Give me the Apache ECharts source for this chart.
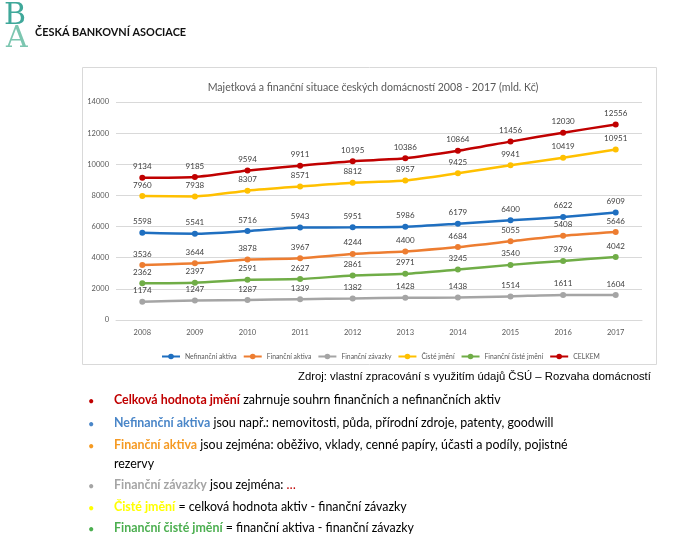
<!DOCTYPE html>
<html><head><meta charset="utf-8">
<script src="https://cdn.jsdelivr.net/npm/echarts@6/dist/echarts.min.js"></script>
<style>html,body{margin:0;padding:0;background:#fff}#c{width:682px;height:551px}</style>
</head><body><div id="c"></div>
<script>
const years = ['2008','2009','2010','2011','2012','2013','2014','2015','2016','2017'];
const nefinancniAktiva = [5598,5541,5716,5943,5951,5986,6179,6400,6622,6909];
const financniAktiva = [3536,3644,3878,3967,4244,4400,4684,5055,5408,5646];
const financniZavazky = [1174,1247,1287,1339,1382,1428,1438,1514,1611,1604];
const cisteJmeni = [7960,7938,8307,8571,8812,8957,9425,9941,10419,10951];
const financniCisteJmeni = [2362,2397,2591,2627,2861,2971,3245,3540,3796,4042];
const celkem = [9134,9185,9594,9911,10195,10386,10864,11456,12030,12556];
const seriesNames = ['Nefinanční aktiva','Finanční aktiva','Finanční závazky','Čisté jmění','Finanční čisté jmění','CELKEM'];
const seriesData = [nefinancniAktiva, financniAktiva, financniZavazky, cisteJmeni, financniCisteJmeni, celkem];
const colors = ['#1F6FC0','#ED7D31','#A5A5A5','#FFC000','#70AD47','#C00000'];

const chart = echarts.init(document.getElementById('c'), null, {renderer:'canvas'});
const bodyFont = 'Lato, "Open Sans", sans-serif';
const fs = 12.4;
const bulletLines = [
  {y:403, c:'#C00000', rich:[['r','Celková hodnota jmění'],['n',' zahrnuje souhrn finančních a nefinančních aktiv']]},
  {y:426, c:'#4A86C8', rich:[['b','Nefinanční aktiva'],['n',' jsou např.: nemovitosti, půda, přírodní zdroje, patenty, goodwill']]},
  {y:448, c:'#F59A23', rich:[['o','Finanční aktiva'],['n',' jsou zejména: oběživo, vklady, cenné papíry, účasti a podíly, pojistné']]},
  {y:467, c:null, rich:[['n','rezervy']]},
  {y:488, c:'#A5A5A5', rich:[['g','Finanční závazky'],['n',' jsou zejména: '],['d','…']]},
  {y:510, c:'#FFFF00', rich:[['y','Čisté jmění'],['n',' = celková hodnota aktiv - finanční závazky']]},
  {y:531, c:'#4CAF50', rich:[['gr','Finanční čisté jmění'],['n',' = finanční aktiva - finanční závazky']]}
];
const richStyles = {
  n:{fontSize:fs, fontFamily:bodyFont, fill:'#000'},
  r:{fontSize:fs, fontFamily:bodyFont, fontWeight:'bold', fill:'#C00000'},
  b:{fontSize:fs, fontFamily:bodyFont, fontWeight:'bold', fill:'#4A86C8'},
  o:{fontSize:fs, fontFamily:bodyFont, fontWeight:'bold', fill:'#F59A23'},
  g:{fontSize:fs, fontFamily:bodyFont, fontWeight:'bold', fill:'#A5A5A5'},
  d:{fontSize:fs, fontFamily:bodyFont, fill:'#C00000'},
  y:{fontSize:fs, fontFamily:bodyFont, fontWeight:'bold', fill:'#FFFF00'},
  gr:{fontSize:fs, fontFamily:bodyFont, fontWeight:'bold', fill:'#4CAF50'}
};
const graphics = [
  {type:'rect', shape:{x:82.5,y:67.5,width:574,height:297}, style:{fill:'none', stroke:'#D9D9D9', lineWidth:1}, z:-1},
  {type:'text', x:4, y:1, style:{text:'B', fontSize:30, fontFamily:'"DejaVu Serif", serif', fill:'#3FA89A'}},
  {type:'text', x:6, y:24, style:{text:'A', fontSize:30, fontFamily:'"DejaVu Serif", serif', fill:'#7CC6B0'}},
  {type:'text', x:35, y:27, style:{text:'ČESKÁ BANKOVNÍ ASOCIACE', fontSize:10.9, fontWeight:'bold', fontFamily:bodyFont, fill:'#111'}},
  {type:'text', x:298, y:371, style:{text:'Zdroj: vlastní zpracování s využitím údajů ČSÚ – Rozvaha domácností', fontSize:11.3, fontFamily:'"Liberation Sans", Arial, sans-serif', fill:'#000'}}
];
bulletLines.forEach(l => {
  if (l.c) graphics.push({type:'text', x:88, y:l.y-7, style:{text:'•', fontSize:11, fontFamily:bodyFont, fill:l.c}});
  graphics.push({type:'text', x:114, y:l.y-9, style:{
    text: l.rich.map(p => '{' + p[0] + '|' + p[1] + '}').join(''),
    rich: richStyles
  }});
});

chart.setOption({
  animation:false,
  color: colors,
  title:{text:'Majetková a finanční situace českých domácností 2008 - 2017 (mld. Kč)', left:368, top:77, textAlign:'center',
    textStyle:{fontSize:10.6, fontWeight:'normal', color:'#595959', fontFamily:bodyFont}},
  legend:{data:seriesNames, left:156, top:348, itemWidth:18, itemHeight:7, itemGap:6,
    textStyle:{fontSize:6.8, color:'#595959', fontFamily:bodyFont}},
  grid:{left:116, right:40, top:102, bottom:231, containLabel:false},
  xAxis:{type:'category', data:years, boundaryGap:true,
    axisLine:{lineStyle:{color:'#D9D9D9'}}, axisTick:{show:false},
    axisLabel:{fontSize:7.5, color:'#595959', fontFamily:bodyFont, margin:9}},
  yAxis:{type:'value', min:0, max:14000, interval:2000,
    axisLine:{show:false}, axisTick:{show:false},
    splitLine:{lineStyle:{color:'#D9D9D9'}},
    axisLabel:{fontSize:7.5, color:'#595959', fontFamily:bodyFont, margin:7, formatter: v => String(v)}},
  graphic: graphics,
  series: seriesData.map((d,i) => ({
    name: seriesNames[i], type:'line', data:d, smooth:0.25,
    symbol:'circle', symbolSize:6,
    lineStyle:{width:2.5, color:colors[i]},
    itemStyle:{color:colors[i]},
    label:{show:true, position:'top', distance:4, fontSize:8, color:'#404040', fontFamily:bodyFont}
  }))
});
</script></body></html>
